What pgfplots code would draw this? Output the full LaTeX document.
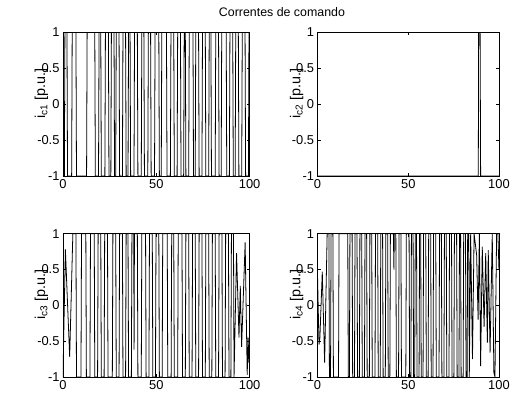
\documentclass[border=0pt]{standalone}
\usepackage{fontspec}
\setmainfont{Liberation Sans}
\usepackage{pgfplots}
\pgfplotsset{compat=1.18}

\pgfplotsset{
  panel/.style={
    scale only axis, anchor=south west,
    xmin=0, xmax=100, ymin=-1, ymax=1,
    xtick={0,50,100}, ytick={-1,-0.5,0,0.5,1},
    tick align=inside, major tick length=3bp,
    axis line style={line width=0.7bp},
    every tick/.style={black, line width=0.5bp},
    /pgf/number format/assume math mode=true,
    ticklabel style={font=\fontsize{13}{15}\selectfont},
    ylabel style={font=\fontsize{14.5}{16}\selectfont,
      at={(axis description cs:-0.115,0.575)}, anchor=center},
  },
  sig/.style={black, line width=0.8bp, no markers},
}

\begin{document}
\begin{tikzpicture}
\path (0bp,0bp) rectangle (513bp,398bp);
\node[font=\fontsize{12.5}{15}\selectfont] at (283.5bp,386bp) {Correntes de comando};

% i_c1
\begin{axis}[panel, at={(63.3bp,221bp)}, width=187.7bp, height=144.7bp,
  ylabel={i\textsubscript{c1} [p.u.]}]
\addplot[sig] coordinates {
(0,-1)(0.75,-1)(1.05,1)(2.15,1)(2.45,-1)(4.65,-1)(4.95,1)(6.95,1)(7.25,-1)
(12.65,-1)(12.95,1)(17.05,1)(17.35,-1)(19.05,-1)(19.35,1)(20.25,1)(20.55,-1)
(22.45,-1)(22.75,1)(24.35,1)(24.65,-1)(25.65,-1)(25.95,1)(27.35,1)(27.65,-1)
(28.25,-1)(28.55,1)(30.05,1)(30.35,-1)(31.85,-1)(32.15,1)(33.55,1)(33.85,-1)
(34.85,-1)(35.15,1)(35.95,1)(36.25,-1)(38.05,-1)(38.35,1)(39.85,1)(40.15,-1)
(41.95,-1)(42.25,1)(43.35,1)(43.65,-1)(45.45,-1)(45.75,1)(46.95,1)(47.25,-1)
(49.05,-1)(49.35,1)(51.35,1)(51.65,-1)(52.65,-1)(52.95,1)(55.45,1)(55.75,-1)
(57.55,-1)(57.85,1)(59.35,1)(59.65,-1)(61.15,-1)(61.45,1)(62.95,1)(63.25,-1)
(64.65,-1)(64.95,1)(65.55,1)(65.85,-1)(67.35,-1)(67.65,1)(69.65,1)(69.95,-1)
(70.85,-1)(71.15,1)(72.65,1)(72.95,-1)(74.45,-1)(74.75,1)(76.25,1)(76.55,-1)
(78.05,-1)(78.35,1)(79.25,1)(79.55,-1)(81.55,-1)(81.85,1)(83.35,1)(83.65,-1)
(84.75,-1)(85.05,1)(87.45,1)(87.75,-1)(89.15,-1)(89.45,1)(90.95,1)(91.25,-1)
(92.25,-1)(92.55,1)(93.95,1)(94.25,-1)(95.75,-1)(96.05,1)(97.55,1)(97.85,-1)
(99.35,-1)(99.65,1)(100,1)
};
\end{axis}

% i_c2
\begin{axis}[panel, at={(319.3bp,221bp)}, width=182.4bp, height=144.7bp,
  ylabel={i\textsubscript{c2} [p.u.]}]
\addplot[sig] coordinates {
(0,-1)(88.6,-1)(88.8,1)(89.6,1)(89.9,-1)(100,-1)
};
\end{axis}

% i_c3
\begin{axis}[panel, at={(63.3bp,19bp)}, width=187.7bp, height=144bp,
  ylabel={i\textsubscript{c3} [p.u.]}]
\addplot[sig] coordinates {
(0,-1)(1.3,0.78)(3.6,-0.72)(5.3,1)
(6.95,1)(7.25,-1)(9.65,-1)(9.95,1)(12.25,1)(12.55,-1)(14.45,-1)(14.75,1)
(16.75,1)(17.05,-1)(18.55,-1)(18.85,1)(20.25,1)(20.55,-1)(22.05,-1)(22.35,1)
(23.85,1)(24.15,-1)(26.45,-1)(26.75,1)(28.25,1)(28.55,-1)(30.05,-1)(30.35,1)
(31.85,1)(32.15,-1)(33.55,-1)(33.85,1)(34.85,1)(35.15,-1)(36.65,-1)(36.95,1)
(37.9,1)(38.1,-0.62)(38.3,1)
(39.85,1)(40.15,-1)(41.95,-1)(42.25,1)(44.25,1)(44.55,-1)(46.05,-1)(46.35,1)
(47.85,1)(48.15,-1)(49.55,-1)(49.85,1)(51.35,1)(51.65,-1)(53.15,-1)(53.45,1)
(55.85,1)(56.15,-1)(57.95,-1)(58.25,1)(59.35,1)(59.65,-1)(61.45,-1)(61.75,1)
(63.75,1)(64.05,-1)(65.55,-1)(65.85,1)(67.35,1)(67.65,-1)(69.15,-1)(69.45,1)
(70.85,1)(71.15,-1)(72.65,-1)(72.95,1)(74.45,1)(74.75,-1)(76.25,-1)(76.55,1)
(78.05,1)(78.35,-1)(79.75,-1)(80.05,1)(81.55,1)(81.85,-1)(83.35,-1)(83.65,1)
(85.15,1)(85.45,-1)(86.85,-1)(87.15,1)(88.65,1)(88.95,-1)(89.95,-1)(90.25,1)
(91.35,1)(91.65,-1)
(93.0,0.73)(94.3,-0.45)(95.0,0.27)(95.7,-0.58)(97.6,0.88)(98.7,-0.97)
(99.2,-0.45)(99.6,-0.8)(100,-0.6)
};
\end{axis}

% i_c4
\begin{axis}[panel, at={(319.3bp,19bp)}, width=182.4bp, height=144bp,
  ylabel={i\textsubscript{c4} [p.u.]}]
\addplot[sig] coordinates {
(0,0.4)(0.8,-0.55)(1.3,-0.45)(2.6,0.47)(3.9,-0.8)(5.3,1)
(6.25,1)(6.55,-1)(7.15,-1)(7.45,1)(8.45,1)(8.75,-1)(11.55,-1)(11.85,1)
(16.65,1)(16.95,-1)(17.55,-1)(17.85,1)(19.05,1)(19.35,-1)(20.35,-1)(20.65,1)
(21.75,1)(22.05,-1)(23.05,-1)(23.35,1)(24.35,1)(24.65,-1)(25.85,-1)(26.15,1)
(27.05,1)(27.35,-1)(28.55,-1)(28.85,1)(29.85,1)(30.15,-1)(31.65,-1)(31.95,1)
(33.15,1)(33.45,-1)(34.55,-1)(34.85,1)(35.85,1)(36.15,-1)(37.35,-1)(37.65,1)
(38.65,1)(38.95,-1)(39.85,-1)(40.15,1)
(41.8,1)(42.1,0.5)(42.3,1)
(43.15,1)(43.45,-1)(44.65,-1)(44.95,1)(45.95,1)(46.25,-1)(48.65,-1)(48.95,1)
(50.45,1)(50.75,-1)(51.45,-1)(51.75,1)(52.65,1)(52.95,-1)(53.55,-1)(53.85,1)
(54.55,1)(54.85,-1)(55.95,-1)(56.25,1)(56.85,1)(57.15,-1)(58.15,-1)(58.45,1)
(59.65,1)(59.95,-1)(60.95,-1)(61.25,1)(62.35,1)(62.65,-1)(63.65,-1)(63.95,1)
(65.15,1)(65.45,-1)(66.95,-1)(67.25,1)(68.25,1)(68.55,-1)(69.65,-1)(69.95,1)
(70.95,1)(71.25,-1)(72.45,-1)(72.75,1)(73.85,1)(74.15,-1)(75.15,-1)(75.45,1)
(76.65,1)(76.95,-1)(77.95,-1)(78.25,1)(78.85,1)(79.15,-1)(80.25,-1)(80.55,1)
(81.55,1)(81.85,-1)(82.45,-1)(82.75,1)(83.35,1)(83.65,-1)
(84.4,1)(85.4,-0.75)(86.3,1)(87.7,0.7)(88.5,-0.2)(89.2,1)(89.9,-0.85)
(90.8,0.82)(91.8,-0.3)(92.7,0.73)(93.6,-0.52)(94.1,0.77)(95.1,-0.66)
(96.3,1)(97.2,-0.94)(97.8,-1)(98.7,1)(99.4,1)(100,0.5)
};
\end{axis}
\end{tikzpicture}
\end{document}
